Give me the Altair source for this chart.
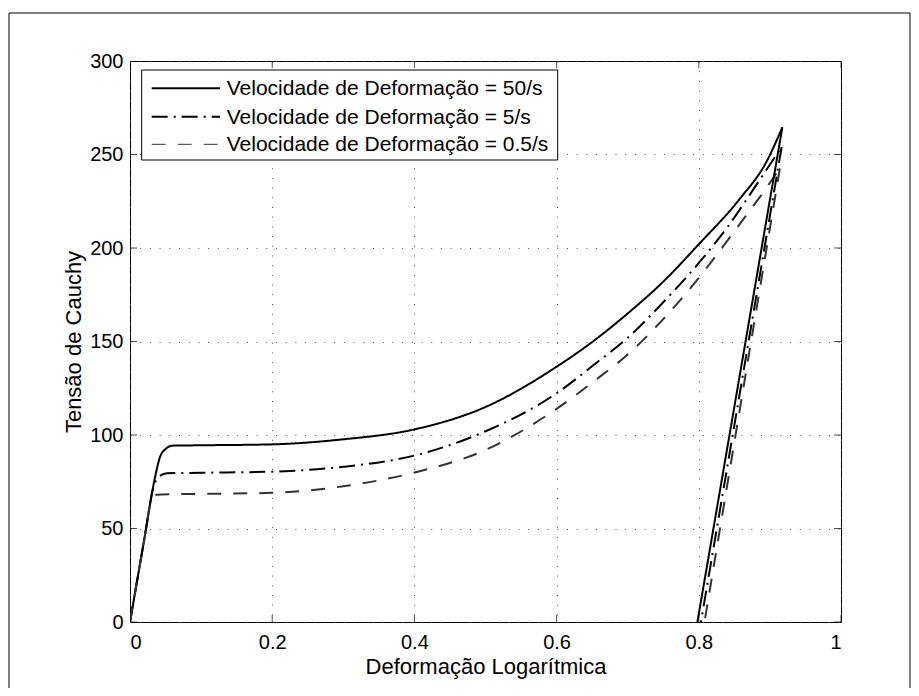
import altair as alt
import pandas as pd

# ---- data ----
series = ["Velocidade de Deformação = 50/s",
          "Velocidade de Deformação = 5/s",
          "Velocidade de Deformação = 0.5/s"]

# loading branches
x50 = [0, 0.02, 0.035, 0.042, 0.05, 0.06, 0.1, 0.2, 0.3, 0.4, 0.5, 0.6, 0.652,
       0.7, 0.75, 0.8, 0.857, 0.895, 0.9175]
y50 = [0, 44, 77, 88, 92.5, 94.3, 94.5, 95, 97.7, 103, 115, 136.5, 150.3,
       165, 182, 202, 226, 246, 264.5]

x5 = [0, 0.02, 0.033, 0.04, 0.052, 0.1, 0.2, 0.3, 0.4, 0.5, 0.6, 0.652, 0.7,
      0.75, 0.8, 0.84, 0.884, 0.9165]
y5 = [0, 44, 72, 77.5, 79.5, 79.8, 80.4, 83, 89, 102, 122.3, 137.4, 152,
      171, 192, 211, 235.5, 254]

x05 = [0, 0.02, 0.03, 0.0375, 0.06, 0.1, 0.2, 0.3, 0.4, 0.5, 0.6, 0.661, 0.7,
       0.75, 0.8, 0.816, 0.858, 0.891, 0.914]
y05 = [0, 44, 65, 68, 68.3, 68.5, 69.1, 72.6, 79.9, 92, 114, 131.2, 143,
       162, 184, 191.8, 213, 230, 242.6]

# unloading branches end (strain where stress returns to zero)
x_unload_end = [0.798, 0.803, 0.808]
y_unload_end = [0, 0, 0]

x_ticks = [0, 0.2, 0.4, 0.6, 0.8, 1]
y_ticks = [0, 50, 100, 150, 200, 250, 300]

x_title = "Deformação Logarítmica"
y_title = "Tensão de Cauchy"

# ---- build tables ----
load_rows, unload_rows = [], []
for k, (name, xs_, ys_) in enumerate(zip(series, [x50, x5, x05], [y50, y5, y05])):
    for i, (a, b) in enumerate(zip(xs_, ys_)):
        load_rows.append({"serie": name, "x": a, "y": b, "i": i})
    unload_rows.append({"serie": name, "x": xs_[-1], "y": ys_[-1], "i": 0})
    unload_rows.append({"serie": name, "x": x_unload_end[k], "y": y_unload_end[k], "i": 1})
df_load = pd.DataFrame(load_rows)
df_unload = pd.DataFrame(unload_rows)

W, H = 711, 561
FONT = "Liberation Sans"

xs = alt.Scale(domain=[0, 1], nice=False, zero=False)
ys = alt.Scale(domain=[0, 300], nice=False, zero=False)

dash_range = [[1, 0], [16, 6, 2, 6], [14, 12]]
width_range = [2, 2, 1]
color_range = ["#000000", "#000000", "#333333"]

x_enc = alt.X("x:Q", scale=xs,
              axis=alt.Axis(values=x_ticks, format="~g", title=x_title, grid=True,
                            gridDash=[1, 8.7], gridColor="#555555", gridWidth=1,
                            domain=False, ticks=False, labelPadding=10,
                            labelFontSize=20, titleFontSize=22, labelFont=FONT,
                            titleFont=FONT, titleFontWeight="normal", labelColor="#000",
                            titleColor="#000", titlePadding=4))
y_enc = alt.Y("y:Q", scale=ys,
              axis=alt.Axis(values=y_ticks, format="d", title=y_title, grid=True,
                            gridDash=[1, 8.7], gridColor="#555555", gridWidth=1,
                            domain=False, ticks=False, labelPadding=7,
                            labelFontSize=20, titleFontSize=22, labelFont=FONT,
                            titleFont=FONT, titleFontWeight="normal", labelColor="#000",
                            titleColor="#000", titlePadding=4))
style_enc = dict(
    color=alt.Color("serie:N", scale=alt.Scale(domain=series, range=color_range), legend=None),
    strokeDash=alt.StrokeDash("serie:N", scale=alt.Scale(domain=series, range=dash_range), legend=None),
    strokeWidth=alt.StrokeWidth("serie:N", scale=alt.Scale(domain=series, range=width_range), legend=None),
    order="i:Q",
    detail="serie:N",
)

load_lines = alt.Chart(df_load).mark_line(
    clip=True, strokeCap="butt", strokeJoin="round", interpolate="monotone").encode(
    x=x_enc, y=y_enc, **style_enc)
unload_lines = alt.Chart(df_unload).mark_line(
    clip=True, strokeCap="butt", strokeJoin="round").encode(
    x=alt.X("x:Q", scale=xs), y=alt.Y("y:Q", scale=ys), **style_enc)

# inward ticks on all four sides
xt = pd.DataFrame({"x": x_ticks})
yt = pd.DataFrame({"y": y_ticks})
tick_b = alt.Chart(xt).mark_tick(orient="vertical", clip=True, size=14, thickness=1, color="black").encode(
    x=alt.X("x:Q", scale=xs), y=alt.value(H))
tick_t = alt.Chart(xt).mark_tick(orient="vertical", clip=True, size=14, thickness=1, color="black").encode(
    x=alt.X("x:Q", scale=xs), y=alt.value(0))
tick_l = alt.Chart(yt).mark_tick(orient="horizontal", clip=True, size=14, thickness=1, color="black").encode(
    y=alt.Y("y:Q", scale=ys), x=alt.value(0))
tick_r = alt.Chart(yt).mark_tick(orient="horizontal", clip=True, size=14, thickness=1, color="black").encode(
    y=alt.Y("y:Q", scale=ys), x=alt.value(W))

# legend box
one = pd.DataFrame({"a": [0]})
leg_x0, leg_x1, leg_y0, leg_y1 = 11.7, 427.7, 9, 99
leg_box = alt.Chart(one).mark_rect(fill="white", stroke="black", strokeWidth=1).encode(
    x=alt.value(leg_x0), x2=alt.value(leg_x1), y=alt.value(leg_y0), y2=alt.value(leg_y1))
leg_layers = [leg_box]
row_y = [27.3, 55.7, 83.3]
for k, name in enumerate(series):
    leg_layers.append(
        alt.Chart(one).mark_rule(color=color_range[k], strokeDash=dash_range[k],
                                 strokeWidth=width_range[k], strokeCap="butt").encode(
            x=alt.value(21.7), x2=alt.value(90), y=alt.value(row_y[k])))
    leg_layers.append(
        alt.Chart(one).mark_text(text=name, align="left", baseline="middle", font=FONT,
                                 fontSize=21, color="black").encode(
            x=alt.value(96.7), y=alt.value(row_y[k] + 1)))

# outer figure frame
frame = alt.Chart(one).mark_rect(fill=None, stroke="black", strokeWidth=1, clip=False).encode(
    x=alt.value(-121), x2=alt.value(780), y=alt.value(-48), y2=alt.value(631))

chart = alt.layer(frame, load_lines, unload_lines, tick_b, tick_t, tick_l, tick_r, *leg_layers).properties(
    width=W, height=H,
    autosize=alt.AutoSizeParams(type="none"),
    padding={"left": 122, "top": 53, "right": 70, "bottom": 66},
    background="white",
).configure_view(stroke="black", strokeWidth=1)

chart.save("out.html", embed_options={"renderer": "svg", "actions": False})
